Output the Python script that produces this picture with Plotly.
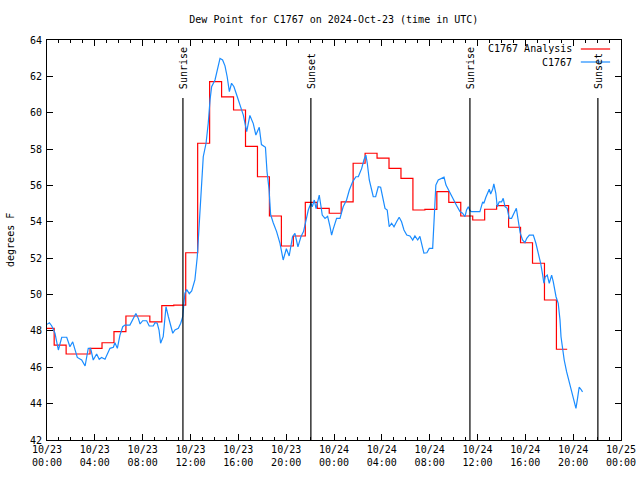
import pandas as pd
import plotly.graph_objects as go

BASE = pd.Timestamp("2024-10-23 00:00")

# Observed dew point (C1767): minutes after 10/23 00:00 UTC, degrees F
blue_min = [0,12,24,40,57,74,99,115,129,140,
            152,174,191,207,219,232,249,262,274,291,
            316,333,341,353,366,380,391,416,433,446,
            458,467,480,500,513,533,542,553,562,570,
            583,597,609,621,631,642,659,671,681,687,
            692,701,714,726,742,754,764,773,784,798,
            809,818,826,843,854,868,881,893,904,915,
            926,938,951,968,985,1002,1018,1035,1048,1065,
            1076,1096,1104,1114,1122,1135,1152,1169,1185,1201,
            1215,1232,1244,1259,1274,1287,1298,1311,1324,1331,
            1341,1350,1358,1366,1375,1381,1395,1408,1420,1428,
            1436,1445,1453,1470,1486,1503,1517,1534,1550,1562,
            1579,1590,1600,1607,1617,1629,1637,1649,1662,1674,
            1684,1696,1707,1717,1729,1741,1754,1767,1779,1791,
            1805,1821,1835,1846,1860,1871,1885,1891,1906,1918,
            1935,1942,1951,1963,1980,1992,2002,2018,2038,2055,
            2072,2085,2097,2105,2114,2122,2130,2172,2186,2192,
            2202,2211,2219,2226,2236,2242,2252,2259,2269,2281,
            2289,2298,2309,2319,2331,2343,2355,2364,2374,2386,
            2398,2407,2420,2440,2453,2465,2477,2487,2493,2500,
            2510,2520,2532,2540,2554,2565,2574,2579,2587,2595,
            2607,2620,2632,2644,2654,2662,2670,2679,2687]
blue_val = [48.36,48.45,48.27,47.87,46.95,47.65,47.65,47.13,47.4,46.95,
            46.54,46.4,46.07,47.04,47.04,46.4,46.73,46.44,46.54,46.44,
            47.04,47.1,47.35,47.04,47.77,48.23,48.32,48.32,48.69,48.96,
            48.69,48.38,48.56,48.56,48.27,48.27,48.45,48.42,48.05,47.32,
            47.68,49.33,48.78,48.23,47.87,48.05,48.14,48.42,48.78,49.52,
            50.07,50.27,50.05,50.2,50.8,52.08,53.92,55.75,57.58,58.32,
            59.42,60.7,61.43,61.8,62.35,62.99,62.9,62.58,61.98,61.16,
            61.62,61.43,61.0,60.42,59.87,58.96,59.85,59.4,58.77,59.2,
            58.25,58.1,56.75,55.8,54.4,53.95,53.46,52.82,51.9,52.52,
            52.12,53.18,53.37,52.62,53.18,53.46,54.1,54.65,55.02,54.83,
            55.2,54.72,55.1,55.47,54.83,54.37,54.19,54.3,53.73,53.27,
            53.6,53.92,54.19,54.19,54.83,55.2,55.75,56.21,56.48,56.48,
            56.94,57.4,57.67,57.22,56.3,55.75,55.38,55.38,55.93,55.9,
            55.29,54.74,54.65,53.73,53.92,53.73,54.0,54.25,54.0,53.55,
            53.27,53.22,53.0,53.22,53.0,53.2,52.55,52.28,52.3,52.54,
            52.54,54.4,56.02,56.3,56.39,56.46,56.02,55.66,55.22,54.9,
            54.56,54.47,54.28,54.65,54.83,54.62,54.56,54.56,55.1,55.02,
            55.35,55.57,55.79,55.53,55.79,56.08,55.57,54.83,55.1,55.1,
            55.29,54.83,54.74,54.19,54.19,54.47,54.74,54.1,53.4,53.0,
            52.85,53.09,53.27,53.27,52.82,52.26,51.72,51.07,50.62,50.98,
            51.07,50.62,51.07,50.71,49.88,49.52,48.6,47.68,46.95,46.4,
            45.76,45.2,44.65,44.2,43.74,44.29,44.9,44.79,44.65]

# Hourly analysis values (C1767 Analysis), each held for one hour
red_val = [48.14,47.22,46.73,46.73,47.04,47.35,47.96,48.82,48.82,48.5,
           49.39,49.42,52.3,58.32,61.71,60.87,60.15,58.15,56.48,54.32,
           52.67,53.22,55.07,54.74,54.47,55.1,57.22,57.77,57.5,56.94,
           56.39,54.65,54.68,55.66,55.07,54.32,54.1,54.69,54.89,53.7,
           52.85,51.72,49.7,46.99]
red_start_min = -24      # first analysis step begins at 10/22 23:36
red_end_min = 2610       # last step ends

# Sun events
event_times = ["2024-10-23 11:22", "2024-10-23 22:04", "2024-10-24 11:22", "2024-10-24 22:04"]
event_labels = ["Sunrise", "Sunset", "Sunrise", "Sunset"]

# Axis ticks
x_tick_times = ["2024-10-23 00:00", "2024-10-23 04:00", "2024-10-23 08:00", "2024-10-23 12:00",
                "2024-10-23 16:00", "2024-10-23 20:00", "2024-10-24 00:00", "2024-10-24 04:00",
                "2024-10-24 08:00", "2024-10-24 12:00", "2024-10-24 16:00", "2024-10-24 20:00",
                "2024-10-25 00:00"]
x_tick_text = ["10/23<br>00:00", "10/23<br>04:00", "10/23<br>08:00", "10/23<br>12:00",
               "10/23<br>16:00", "10/23<br>20:00", "10/24<br>00:00", "10/24<br>04:00",
               "10/24<br>08:00", "10/24<br>12:00", "10/24<br>16:00", "10/24<br>20:00",
               "10/25<br>00:00"]
y_ticks = [42, 44, 46, 48, 50, 52, 54, 56, 58, 60, 62, 64]

blue_t = [BASE + pd.Timedelta(minutes=m) for m in blue_min]
red_t = [BASE + pd.Timedelta(minutes=red_start_min + 60 * k) for k in range(len(red_val))]
red_t.append(BASE + pd.Timedelta(minutes=red_end_min))
red_y = red_val + [red_val[-1]]

FONT = "DejaVu Sans Mono"
RED = "#ff0000"
BLUE = "#1a8cff"

fig = go.Figure()
fig.add_trace(go.Scatter(x=red_t, y=red_y, mode="lines", line=dict(color=RED, width=1.2, shape="hv"),
                         name="C1767 Analysis", showlegend=False))
fig.add_trace(go.Scatter(x=blue_t, y=blue_val, mode="lines", line=dict(color=BLUE, width=1.2),
                         name="C1767", showlegend=False))

for t, lab in zip(event_times, event_labels):
    fig.add_shape(type="line", xref="x", yref="paper", x0=t, x1=t, y0=0, y1=0.855,
                  line=dict(color="black", width=1.2))
    fig.add_annotation(x=t, xref="x", y=0.872, yref="paper", text=lab, textangle=-90,
                       showarrow=False, xanchor="center", yanchor="bottom",
                       font=dict(family=FONT, size=10, color="black"))

# gnuplot-style key (text right, sample line after)
key_items = [("C1767 Analysis", RED, 0.9775), ("C1767", BLUE, 0.945)]
for txt, col, yy in key_items:
    fig.add_annotation(x=0.918, xref="paper", y=yy, yref="paper", text=txt, showarrow=False,
                       xanchor="right", yanchor="middle", font=dict(family=FONT, size=10, color="black"))
    fig.add_shape(type="line", xref="paper", yref="paper", x0=0.930, x1=0.981, y0=yy, y1=yy,
                  line=dict(color=col, width=1.2))

fig.add_annotation(x=-0.0645, xref="paper", y=0.5, yref="paper", text="degrees F", textangle=-90,
                   showarrow=False, xanchor="center", yanchor="middle",
                   font=dict(family=FONT, size=10, color="black"))

fig.update_layout(
    width=640, height=480,
    margin=dict(l=47, r=19, t=40, b=40),
    paper_bgcolor="white", plot_bgcolor="white",
    font=dict(family=FONT, size=10, color="black"),
    title=dict(text="Dew Point for C1767 on 2024-Oct-23 (time in UTC)", x=0.5216, xanchor="center",
               y=1 - 19 / 480, yanchor="middle", yref="container",
               font=dict(family=FONT, size=10, color="black")),
    showlegend=False,
)
fig.update_xaxes(range=["2024-10-23 00:00", "2024-10-25 00:00"], tickvals=x_tick_times, ticktext=x_tick_text,
                 ticks="inside", ticklen=6, tickcolor="black", showline=True, linecolor="black", linewidth=1,
                 mirror="allticks", showgrid=False, zeroline=False, automargin=False,
                 minor=dict(ticks="inside", ticklen=3, dtick=3600000, tickcolor="black", showgrid=False))
fig.update_yaxes(range=[42, 64], tickvals=y_ticks, ticks="inside", ticklen=6, tickcolor="black",
                 showline=True, linecolor="black", linewidth=1, mirror="allticks", automargin=False,
                 ticklabelstandoff=2, showgrid=False, zeroline=False)

fig.write_html("out.html", config={"displayModeBar": False},
               post_script="document.body.style.margin='0';document.body.style.overflow='hidden';")
